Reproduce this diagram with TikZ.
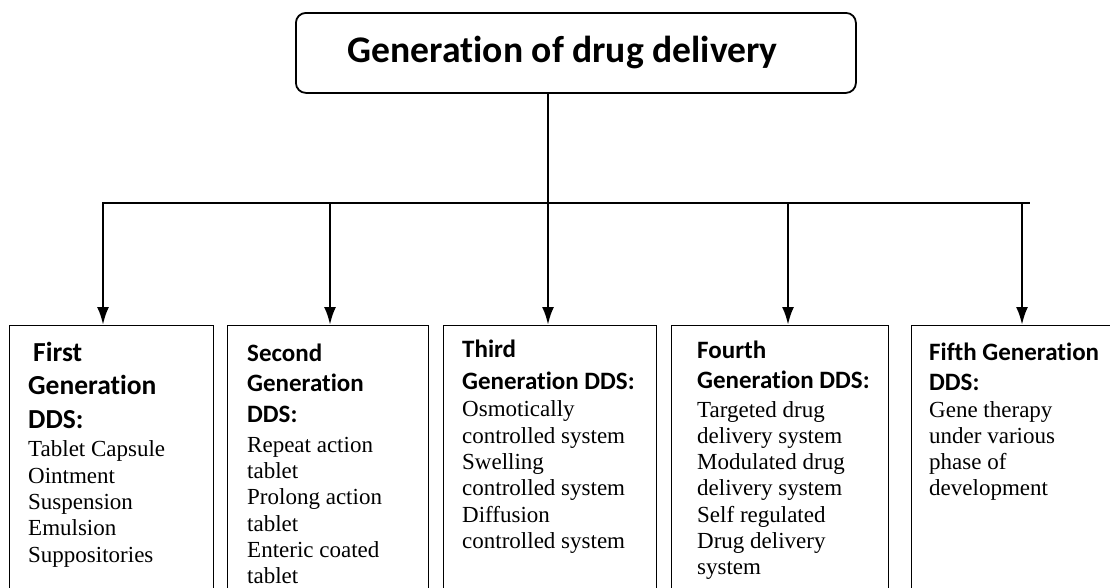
\documentclass[tikz,border=0pt]{standalone}
\usepackage{fontspec}
\setmainfont{Liberation Serif}
\newfontfamily\calfont[Ligatures=NoCommon]{Carlito}
\usetikzlibrary{arrows.meta, positioning}
\newcommand{\hd}[3]{{\calfont\bfseries\fontsize{#1}{#2}\selectfont #3\par}}

\begin{document}
\begin{tikzpicture}[x=1pt, y=-1pt,
    root/.style={draw, line width=1.8pt, rounded corners=10pt, anchor=north west,
      minimum height=80, text width=456, inner xsep=52, inner ysep=0pt,
      align=flush left, font=\calfont\bfseries\fontsize{37.6}{45}\selectfont},
    genbox/.style={draw, line width=1.3pt, anchor=north west, minimum height=300,
      inner sep=0pt},
    gentext/.style={anchor=base west, text width=200, align=flush left,
      inner sep=0pt, font=\fontsize{23}{26.3}\selectfont},
    link/.style={line width=2.6pt, line cap=rect},
    drop/.style={line width=2.6pt, -{Latex[length=18pt, width=12pt]}}]
  \useasboundingbox (0,0) rectangle (1110,587);
  \clip (0,0) rectangle (1110,587);
  % title
  \node[root] (root) at (295,12) {Generation of drug delivery};
  % the five generation boxes, open towards the bottom
  \foreach \i/\x/\w in {1/9/204, 2/227/201, 3/443/213, 4/671/217, 5/911/260}
    \node[genbox, minimum width=\w] (gen\i) at (\x,325) {};
  % bus line and drops
  \coordinate (hub) at (548,203);
  \coordinate (bl) at (103,203);
  \coordinate (br) at (1029,203);
  \draw[link] (root.south -| hub) -- (hub);
  \draw[link] (bl) -- (br);
  \foreach \i/\x in {1/103, 2/330, 3/548, 4/788, 5/1022} {
    \coordinate (d\i) at (\x,203);
    \draw[drop] (d\i) -- (d\i |- gen\i.north);
  }
  % box contents
  \node[gentext] (txt1) at (28,361)
    {\hd{27.5}{33.5}{\hspace*{5pt}First\\Generation\\DDS:}\vspace{2.5pt}
     Tablet Capsule\\Ointment\\Suspension\\Emulsion\\Suppositories};
  \node[gentext] (txt2) at (247,361)
    {\hd{25}{30.5}{Second\\Generation\\DDS:}\vspace{4pt}
     Repeat action\\tablet\\Prolong action\\tablet\\Enteric coated\\tablet};
  \node[gentext] (txt3) at (462,357)
    {\hd{25}{32}{Third\\Generation DDS:}\vspace{1.5pt}
     Osmotically\\controlled system\\Swelling\\controlled system\\Diffusion\\controlled system};
  \node[gentext] (txt4) at (697,358)
    {\hd{25}{30}{Fourth\\Generation DDS:}\vspace{2.7pt}
     Targeted drug\\delivery system\\Modulated drug\\delivery system\\Self regulated\\Drug delivery\\system};
  \node[gentext] (txt5) at (929,360)
    {\hd{25}{30}{Fifth Generation\\DDS:}\vspace{0.7pt}
     Gene therapy\\under various\\phase of\\development};
\end{tikzpicture}
\end{document}
